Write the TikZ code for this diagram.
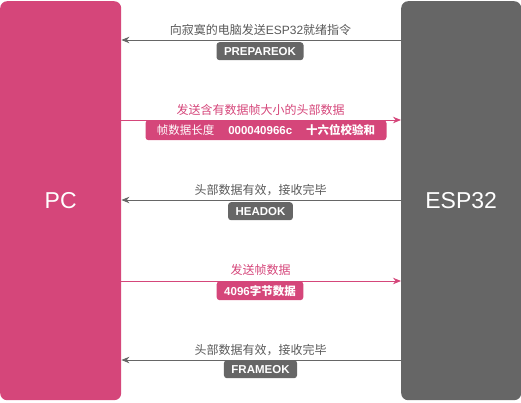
\documentclass[tikz,border=0pt]{standalone}
\usepackage{fontspec}
\setmainfont{Noto Sans CJK SC}
\newfontfamily\latinsans{Liberation Sans}
\usetikzlibrary{arrows.meta}
\definecolor{pinkc}{HTML}{D5467A}
\definecolor{greyc}{HTML}{666666}
\definecolor{labgrey}{HTML}{595959}
\newcommand{\lat}[1]{{\latinsans #1}}
\tikzset{
  party/.style={rounded corners=7pt, draw=none, anchor=north west, inner sep=0pt},
  partytext/.style={text=white, font=\latinsans\fontsize{23}{26}\selectfont},
  msg/.style={font=\fontsize{12}{14}\selectfont, inner sep=0pt},
  tagbox/.style={rounded corners=3pt, text=white, font=\bfseries\fontsize{11.5}{13}\selectfont,
    minimum height=18pt, inner xsep=7.5pt, inner ysep=0pt, anchor=north},
  arr/.style={line width=0.9pt, -{Stealth[length=8pt,width=6.5pt]}},
}
\begin{document}
\begin{tikzpicture}[x=1pt,y=-1pt]
\useasboundingbox (0,0) rectangle (521,402);
\node[party, fill=pinkc, minimum width=121pt, minimum height=399pt] (pc) at (0,1) {};
\node[partytext] (pct) at (pc.center) {PC};
\node[party, fill=greyc, minimum width=120pt, minimum height=399pt] (esp) at (401,1) {};
\node[partytext] (espt) at (esp.center) {ESP32};

% message 1
\coordinate (a1) at (esp.west |- 0,40);
\coordinate (b1) at (pc.east |- 0,40);
\draw[arr, draw=greyc, color=greyc] (a1) -- (b1);
\node[msg, text=labgrey] (m1) at (260.5,30) {向寂寞的电脑发送\lat{ESP32}就绪指令};
\node[tagbox, fill=greyc] (t1) at (260,42) {\lat{PREPAREOK}};

% message 2
\coordinate (a2) at (pc.east |- 0,120);
\coordinate (b2) at (esp.west |- 0,120);
\draw[arr, draw=pinkc, color=pinkc] (a2) -- (b2);
\node[msg, text=pinkc] (m2) at (260.5,110) {发送含有数据帧大小的头部数据};
\node[tagbox, fill=pinkc, minimum width=241pt, minimum height=20pt] (t2) at (266,120)
  {{\mdseries 帧数据长度}\hspace{14pt}\lat{000040966c}\hspace{14pt}十六位校验和};

% message 3
\coordinate (a3) at (esp.west |- 0,200);
\coordinate (b3) at (pc.east |- 0,200);
\draw[arr, draw=greyc, color=greyc] (a3) -- (b3);
\node[msg, text=labgrey] (m3) at (260.5,190) {头部数据有效，接收完毕};
\node[tagbox, fill=greyc] (t3) at (260.5,202) {\lat{HEADOK}};

% message 4
\coordinate (a4) at (pc.east |- 0,281);
\coordinate (b4) at (esp.west |- 0,281);
\draw[arr, draw=pinkc, color=pinkc] (a4) -- (b4);
\node[msg, text=pinkc] (m4) at (260.5,270) {发送帧数据};
\node[tagbox, fill=pinkc, minimum height=19pt] (t4) at (260,281) {\lat{4096}字节数据};

% message 5
\coordinate (a5) at (esp.west |- 0,360);
\coordinate (b5) at (pc.east |- 0,360);
\draw[arr, draw=greyc, color=greyc] (a5) -- (b5);
\node[msg, text=labgrey] (m5) at (260.5,350) {头部数据有效，接收完毕};
\node[tagbox, fill=greyc] (t5) at (260.5,360) {\lat{FRAMEOK}};
\end{tikzpicture}
\end{document}
